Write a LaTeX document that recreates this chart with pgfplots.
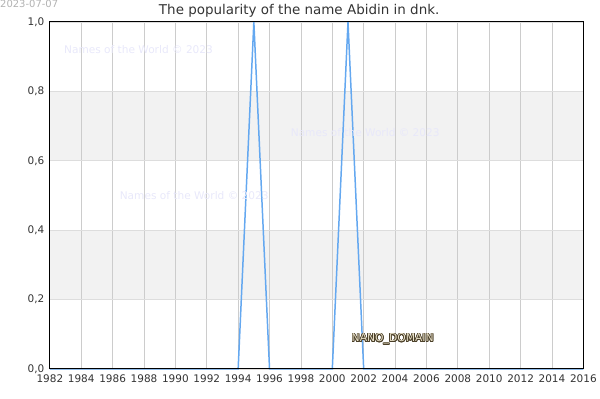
\documentclass[border=0pt]{standalone}
\usepackage{pgfplots}
\pgfplotsset{compat=1.18}
\usepackage{fontspec}
\setmainfont{DejaVu Sans}
\usepackage{contour}
\contourlength{0.7pt}
\definecolor{linecol}{HTML}{64A8F0}
\definecolor{bandgray}{HTML}{F2F2F2}
\definecolor{hgrid}{HTML}{DDDDDD}
\definecolor{vgrid}{HTML}{CCCCCC}
\definecolor{txtgray}{HTML}{333333}
\definecolor{wmark}{HTML}{E8E8FA}
\definecolor{nanoedge}{HTML}{4A3F28}
\definecolor{nanofill}{HTML}{E8E0C8}

\pgfplotstableread{
year v
1982 0
1983 0
1984 0
1985 0
1986 0
1987 0
1988 0
1989 0
1990 0
1991 0
1992 0
1993 0
1994 0
1995 1
1996 0
1997 0
1998 0
1999 0
2000 0
2001 1
2002 0
2003 0
2004 0
2005 0
2006 0
2007 0
2008 0
2009 0
2010 0
2011 0
2012 0
2013 0
2014 0
2015 0
2016 0
}\abidin

\begin{document}
\begin{tikzpicture}
\begin{axis}[
  set layers,
  scale only axis,
  width=535bp, height=348bp,
  xmin=1982, xmax=2016,
  ymin=0, ymax=1,
  xtick={1982,1984,...,2016},
  ytick={0,0.2,...,1.0},
  x tick label style={/pgf/number format/1000 sep={}},
  y tick label style={/pgf/number format/.cd, use comma, fixed, fixed zerofill, precision=1},
  /pgf/number format/assume math mode=true,
  tick label style={font=\fontsize{10.5bp}{12bp}\selectfont, text=txtgray},
  major tick length=0pt,
  xmajorgrids=true,
  x grid style={vgrid, line width=0.8pt},
  y grid style={hgrid, line width=0.8pt},
  ymajorgrids=true,
  axis line style={black, line width=1pt},
  xticklabel shift=2bp,
  yticklabel shift=2bp,
]
\addplot[on layer=axis background, fill=bandgray, draw=none] coordinates {(1982,0.2) (2016,0.2) (2016,0.4) (1982,0.4)} -- cycle;
\addplot[on layer=axis background, fill=bandgray, draw=none] coordinates {(1982,0.6) (2016,0.6) (2016,0.8) (1982,0.8)} -- cycle;
\node[text=wmark, font=\fontsize{10.6bp}{12bp}\selectfont] at (axis cs:1987.65,0.92) {Names of the World © 2023};
\node[text=wmark, font=\fontsize{10.6bp}{12bp}\selectfont] at (axis cs:2002.1,0.68) {Names of the World © 2023};
\node[text=wmark, font=\fontsize{10.6bp}{12bp}\selectfont] at (axis cs:1991.2,0.50) {Names of the World © 2023};
\addplot[on layer=axis grid, linecol, line width=1.5pt, mark=none] table[x=year, y=v] {\abidin};
\node[font=\fontsize{10.8bp}{12bp}\selectfont] at (axis cs:2003.85,0.085) {\contour{nanoedge}{\textcolor{nanofill}{NANO\_DOMAIN}}};
\end{axis}
\node[text=txtgray, font=\fontsize{13.5bp}{15bp}\selectfont] at (250bp,359bp) {The popularity of the name Abidin in dnk.};
\node[text=black!30, font=\fontsize{10bp}{12bp}\selectfont, anchor=north west, inner sep=0pt] at (-50bp,370bp) {2023-07-07};
\path[use as bounding box] (-50bp,-30bp) rectangle (550bp,370bp);
\end{tikzpicture}
\end{document}
